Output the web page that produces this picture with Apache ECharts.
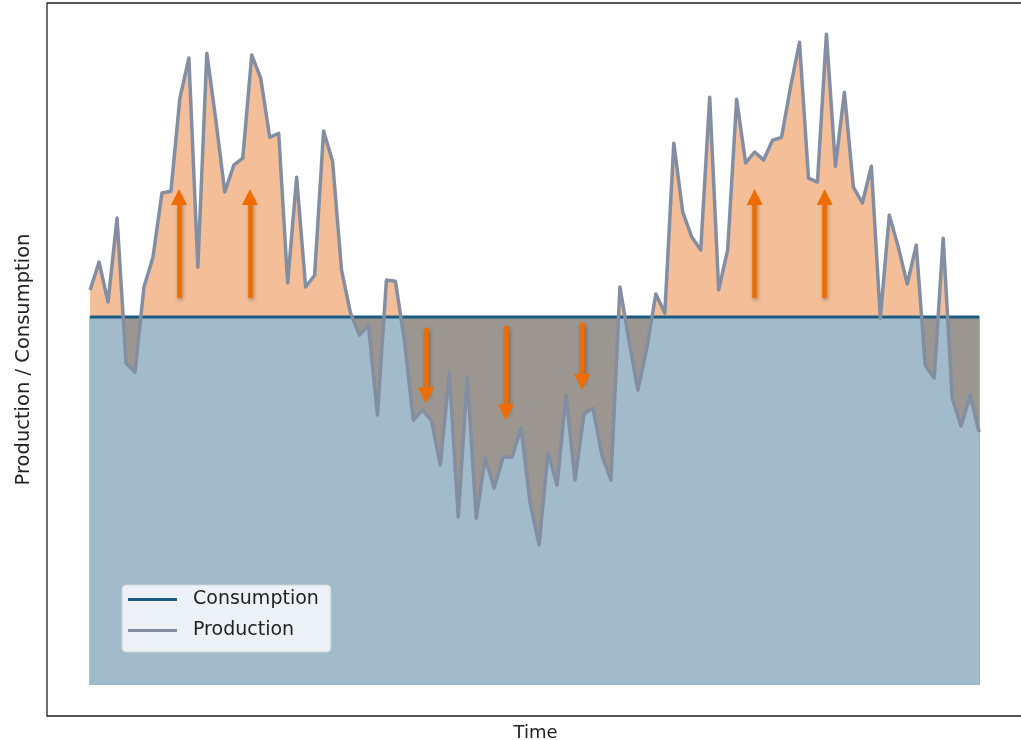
<!DOCTYPE html>
<html>
<head>
<meta charset="utf-8">
<script src="https://cdn.jsdelivr.net/npm/echarts@6/dist/echarts.min.js"></script>
<style>
html,body{margin:0;padding:0;background:#fff;}
#chart{width:1021px;height:740px;}
</style>
</head>
<body>
<div id="chart"></div>
<script>
// ---- data ----
const production = [
  107.4,115.0,104.1,127.0,87.5,85.0,108.2,116.3,133.8,134.3,
  159.7,170.6,113.6,171.9,153.7,134.1,141.4,143.3,171.4,165.1,
  149.0,150.1,109.3,138.1,108.2,111.4,150.7,142.5,112.8,101.1,
  95.1,97.8,73.3,110.1,109.8,93.7,71.9,74.7,71.9,59.7,
  84.7,45.5,83.7,45.2,61.6,53.4,61.9,61.9,69.8,49.3,
  37.9,63.2,54.2,78.7,55.6,73.6,75.2,62.4,55.6,108.2,
  93.7,80.1,91.6,106.3,101.1,147.4,128.6,121.8,118.3,159.9,
  107.4,118.3,159.4,142.0,145.0,142.8,148.2,149.0,162.7,174.9,
  137.9,136.8,177.1,141.1,161.3,135.4,131.1,141.1,99.7,127.8,
  119.1,109.0,119.6,86.9,83.4,121.5,77.9,70.3,78.7,68.7
];
const consumptionTimes = [0, 99];
const consumptionValues = [100, 100];
// annotation arrows: time position, start value, end value
const arrowTime = [9.9, 17.8, 74.0, 81.8, 37.4, 46.3, 54.8];
const arrowFrom = [105.2, 105.2, 105.2, 105.2, 97.0, 97.5, 98.4];
const arrowTo   = [132.7, 132.7, 132.7, 132.7, 78.7, 74.1, 82.3];
const seriesNames = ['Consumption', 'Production'];
const axisNames = {x: 'Time', y: 'Production / Consumption'};

// ---- build ----
const prodData = production.map((v, i) => [i, v]);
const consData = consumptionTimes.map((t, i) => [t, consumptionValues[i]]);
const arrowLines = arrowTime.map((t, i) => [
  {coord: [t, arrowFrom[i]]},
  {coord: [t, arrowTo[i]]}
]);
const FONT = 'DejaVu Sans';
const level = consumptionValues[0];

const chart = echarts.init(document.getElementById('chart'), null, {renderer: 'canvas'});
chart.setOption({
  animation: false,
  backgroundColor: '#ffffff',
  grid: {
    left: 47, top: 3, width: 977, height: 713,
    outerBoundsMode: 'none', containLabel: false,
    show: true, borderColor: '#222', borderWidth: 1.3, backgroundColor: '#ffffff'
  },
  xAxis: {
    type: 'value', min: -4.8, max: 104.0,
    axisLine: {show: false}, axisTick: {show: false}, axisLabel: {show: false}, splitLine: {show: false},
    name: axisNames.x, nameLocation: 'middle', nameGap: 8,
    nameTextStyle: {fontFamily: FONT, fontSize: 18, color: '#222'}
  },
  yAxis: {
    type: 'value', min: -8.7, max: 185.6,
    axisLine: {show: false}, axisTick: {show: false}, axisLabel: {show: false}, splitLine: {show: false},
    name: axisNames.y, nameLocation: 'middle', nameGap: 13,
    nameTextStyle: {fontFamily: FONT, fontSize: 19.5, color: '#222'}
  },
  visualMap: {
    show: false, type: 'piecewise', seriesIndex: 1, dimension: 1,
    pieces: [
      {gte: -1000, lt: level, color: '#9b968f'},
      {gte: level, lte: 1000, color: '#f4bf98'}
    ]
  },
  legend: {
    data: seriesNames, orient: 'vertical', left: 122, top: 585,
    icon: 'rect', itemWidth: 49, itemHeight: 3, itemGap: 12,
    padding: [5, 12, 12, 6],
    backgroundColor: 'rgba(239,243,246,0.95)', borderColor: '#cdd5dc', borderWidth: 1, borderRadius: 4,
    selectedMode: false,
    textStyle: {fontFamily: FONT, fontSize: 19, color: '#222', padding: [0, 0, 0, 11]}
  },
  series: [
    {
      name: 'ConsumptionFill', type: 'line', data: consData, showSymbol: false, silent: true,
      lineStyle: {width: 0}, itemStyle: {color: '#a2bbca'},
      areaStyle: {color: '#a2bbca', opacity: 1, origin: 'auto'},
      markArea: {
        silent: true,
        itemStyle: {color: 'rgba(0,0,0,0)', borderColor: '#7fa2ba', borderWidth: 1.5},
        data: [[{coord: [consumptionTimes[0], 0]}, {coord: [consumptionTimes[1], consumptionValues[1]]}]]
      }
    },
    {
      name: 'ProductionFill', type: 'line', data: prodData, showSymbol: false, silent: true,
      lineStyle: {width: 0},
      areaStyle: {opacity: 1, origin: level}
    },
    {
      name: 'Consumption', type: 'line', data: consData, showSymbol: false, silent: true,
      lineStyle: {width: 3, color: '#1b5b81'}, itemStyle: {color: '#1b5b81'}
    },
    {
      name: 'Production', type: 'line', data: prodData, showSymbol: false, silent: true,
      lineStyle: {width: 3.5, color: '#838ea2', join: 'round'}, itemStyle: {color: '#838ea2'},
      markLine: {
        silent: true, animation: false,
        symbol: ['none', 'triangle'], symbolSize: 16,
        label: {show: false},
        lineStyle: {
          color: '#ee6c00', width: 4.5, type: 'solid',
          shadowColor: 'rgba(0,0,0,0.35)', shadowBlur: 4, shadowOffsetX: 1, shadowOffsetY: 2
        },
        emphasis: {disabled: true},
        data: arrowLines
      }
    }
  ]
});
</script>
</body>
</html>
